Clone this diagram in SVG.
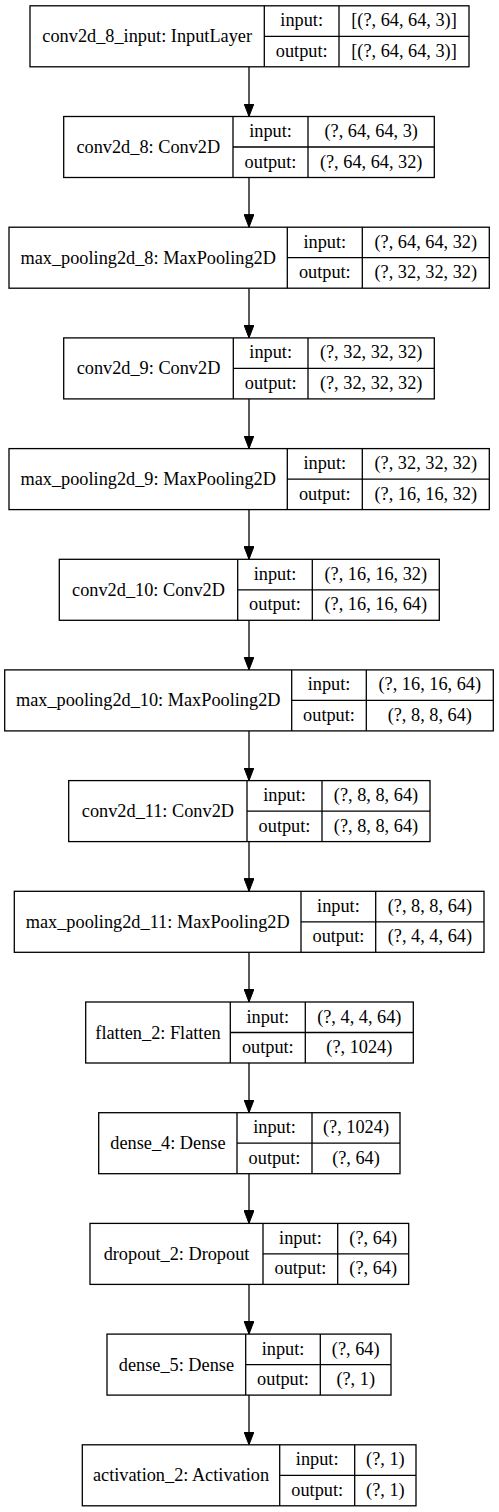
<svg xmlns="http://www.w3.org/2000/svg" width="499" height="1512" viewBox="0 0 499 1512">
<style>
  .box { fill: #ffffff; stroke: #000000; stroke-width: 1.3; }
  .div { stroke: #000000; stroke-width: 1.3; fill: none; }
  text { font-family: "Liberation Serif", "Times New Roman", serif; font-size: 18.3px; fill: #000000; text-anchor: middle; }
  .edge { stroke: #000000; stroke-width: 1.3; fill: none; marker-end: url(#arrow); }
</style>
<defs>
  <marker id="arrow" markerUnits="userSpaceOnUse" viewBox="0 0 13 10" refX="13" refY="5" markerWidth="13" markerHeight="10" orient="auto">
    <path d="M0,0 L13,5 L0,10 Z" fill="#000000" stroke="#000000" stroke-width="1"/>
  </marker>
</defs>
<rect width="499" height="1512" fill="#ffffff"/>

<g id="connectors">
  <path class="edge" d="M249,66.8 V116.5"/>
  <path class="edge" d="M249,177.5 V227.2"/>
  <path class="edge" d="M249,288.2 V337.9"/>
  <path class="edge" d="M249,398.9 V448.6"/>
  <path class="edge" d="M249,509.6 V559.3"/>
  <path class="edge" d="M249,620.3 V669.9"/>
  <path class="edge" d="M249,730.9 V780.6"/>
  <path class="edge" d="M249,841.6 V891.3"/>
  <path class="edge" d="M249,952.3 V1002.0"/>
  <path class="edge" d="M249,1063.0 V1112.7"/>
  <path class="edge" d="M249,1173.7 V1223.4"/>
  <path class="edge" d="M249,1284.4 V1334.1"/>
  <path class="edge" d="M249,1395.1 V1444.8"/>
</g>

<g id="n1">
  <rect class="box" x="30" y="5.8" width="439" height="61"/>
  <path class="div" d="M264.3,5.8 V66.8 M339,5.8 V66.8 M264.3,36.3 H469"/>
  <text x="147.2" y="42.3">conv2d_8_input: InputLayer</text>
  <text x="301.7" y="26.3">input:</text>
  <text x="301.7" y="56.8">output:</text>
  <text x="404" y="26.3">[(?, 64, 64, 3)]</text>
  <text x="404" y="56.8">[(?, 64, 64, 3)]</text>
</g>

<g id="n2">
  <rect class="box" x="63.7" y="116.5" width="370.6" height="61"/>
  <path class="div" d="M233,116.5 V177.5 M308,116.5 V177.5 M233,147 H434.3"/>
  <text x="148.3" y="153">conv2d_8: Conv2D</text>
  <text x="270.5" y="137">input:</text>
  <text x="270.5" y="167.5">output:</text>
  <text x="371.2" y="137">(?, 64, 64, 3)</text>
  <text x="371.2" y="167.5">(?, 64, 64, 32)</text>
</g>

<g id="n3">
  <rect class="box" x="9" y="227.2" width="480.3" height="61"/>
  <path class="div" d="M287.3,227.2 V288.2 M362.3,227.2 V288.2 M287.3,257.7 H489.3"/>
  <text x="148.2" y="263.7">max_pooling2d_8: MaxPooling2D</text>
  <text x="324.8" y="247.7">input:</text>
  <text x="324.8" y="278.2">output:</text>
  <text x="425.8" y="247.7">(?, 64, 64, 32)</text>
  <text x="425.8" y="278.2">(?, 32, 32, 32)</text>
</g>

<g id="n4">
  <rect class="box" x="63.7" y="337.9" width="370.6" height="61"/>
  <path class="div" d="M233.3,337.9 V398.9 M308,337.9 V398.9 M233.3,368.4 H434.3"/>
  <text x="148.5" y="374.4">conv2d_9: Conv2D</text>
  <text x="270.7" y="358.4">input:</text>
  <text x="270.7" y="388.9">output:</text>
  <text x="371.2" y="358.4">(?, 32, 32, 32)</text>
  <text x="371.2" y="388.9">(?, 32, 32, 32)</text>
</g>

<g id="n5">
  <rect class="box" x="9" y="448.6" width="480.3" height="61"/>
  <path class="div" d="M287.3,448.6 V509.6 M362.3,448.6 V509.6 M287.3,479.1 H489.3"/>
  <text x="148.2" y="485.1">max_pooling2d_9: MaxPooling2D</text>
  <text x="324.8" y="469.1">input:</text>
  <text x="324.8" y="499.6">output:</text>
  <text x="425.8" y="469.1">(?, 32, 32, 32)</text>
  <text x="425.8" y="499.6">(?, 16, 16, 32)</text>
</g>

<g id="n6">
  <rect class="box" x="59.3" y="559.3" width="380" height="61"/>
  <path class="div" d="M237.7,559.3 V620.3 M312.3,559.3 V620.3 M237.7,589.8 H439.3"/>
  <text x="148.5" y="595.8">conv2d_10: Conv2D</text>
  <text x="275" y="579.8">input:</text>
  <text x="275" y="610.3">output:</text>
  <text x="375.8" y="579.8">(?, 16, 16, 32)</text>
  <text x="375.8" y="610.3">(?, 16, 16, 64)</text>
</g>

<g id="n7">
  <rect class="box" x="4.7" y="669.9" width="488.6" height="61"/>
  <path class="div" d="M291.7,669.9 V730.9 M366.3,669.9 V730.9 M291.7,700.4 H493.3"/>
  <text x="148.2" y="706.4">max_pooling2d_10: MaxPooling2D</text>
  <text x="329" y="690.4">input:</text>
  <text x="329" y="720.9">output:</text>
  <text x="429.8" y="690.4">(?, 16, 16, 64)</text>
  <text x="429.8" y="720.9">(?, 8, 8, 64)</text>
</g>

<g id="n8">
  <rect class="box" x="68.7" y="780.6" width="361.3" height="61"/>
  <path class="div" d="M247,780.6 V841.6 M322,780.6 V841.6 M247,811.1 H430"/>
  <text x="157.9" y="817.1">conv2d_11: Conv2D</text>
  <text x="284.5" y="801.1">input:</text>
  <text x="284.5" y="831.6">output:</text>
  <text x="376" y="801.1">(?, 8, 8, 64)</text>
  <text x="376" y="831.6">(?, 8, 8, 64)</text>
</g>

<g id="n9">
  <rect class="box" x="14.3" y="891.3" width="469.7" height="61"/>
  <path class="div" d="M301,891.3 V952.3 M375.7,891.3 V952.3 M301,921.8 H484"/>
  <text x="157.7" y="927.8">max_pooling2d_11: MaxPooling2D</text>
  <text x="338.4" y="911.8">input:</text>
  <text x="338.4" y="942.3">output:</text>
  <text x="429.9" y="911.8">(?, 8, 8, 64)</text>
  <text x="429.9" y="942.3">(?, 4, 4, 64)</text>
</g>

<g id="n10">
  <rect class="box" x="85.7" y="1002" width="327.6" height="61"/>
  <path class="div" d="M230.3,1002 V1063 M305.3,1002 V1063 M230.3,1032.5 H413.3"/>
  <text x="158" y="1038.5">flatten_2: Flatten</text>
  <text x="267.8" y="1022.5">input:</text>
  <text x="267.8" y="1053">output:</text>
  <text x="359.3" y="1022.5">(?, 4, 4, 64)</text>
  <text x="359.3" y="1053">(?, 1024)</text>
</g>

<g id="n11">
  <rect class="box" x="98.7" y="1112.7" width="301.3" height="61"/>
  <path class="div" d="M237,1112.7 V1173.7 M312,1112.7 V1173.7 M237,1143.2 H400"/>
  <text x="167.9" y="1149.2">dense_4: Dense</text>
  <text x="274.5" y="1133.2">input:</text>
  <text x="274.5" y="1163.7">output:</text>
  <text x="356" y="1133.2">(?, 1024)</text>
  <text x="356" y="1163.7">(?, 64)</text>
</g>

<g id="n12">
  <rect class="box" x="90" y="1223.4" width="318.7" height="61"/>
  <path class="div" d="M263,1223.4 V1284.4 M337.7,1223.4 V1284.4 M263,1253.9 H408.7"/>
  <text x="176.5" y="1259.9">dropout_2: Dropout</text>
  <text x="300.4" y="1243.9">input:</text>
  <text x="300.4" y="1274.4">output:</text>
  <text x="373.2" y="1243.9">(?, 64)</text>
  <text x="373.2" y="1274.4">(?, 64)</text>
</g>

<g id="n13">
  <rect class="box" x="107" y="1334.1" width="284" height="61"/>
  <path class="div" d="M245.7,1334.1 V1395.1 M320.3,1334.1 V1395.1 M245.7,1364.6 H391"/>
  <text x="176.4" y="1370.6">dense_5: Dense</text>
  <text x="283" y="1354.6">input:</text>
  <text x="283" y="1385.1">output:</text>
  <text x="355.7" y="1354.6">(?, 64)</text>
  <text x="355.7" y="1385.1">(?, 1)</text>
</g>

<g id="n14">
  <rect class="box" x="82.3" y="1444.8" width="333.7" height="61"/>
  <path class="div" d="M279.7,1444.8 V1505.8 M354.7,1444.8 V1505.8 M279.7,1475.3 H416"/>
  <text x="181" y="1481.3">activation_2: Activation</text>
  <text x="317.2" y="1465.3">input:</text>
  <text x="317.2" y="1495.8">output:</text>
  <text x="385.4" y="1465.3">(?, 1)</text>
  <text x="385.4" y="1495.8">(?, 1)</text>
</g>
</svg>
